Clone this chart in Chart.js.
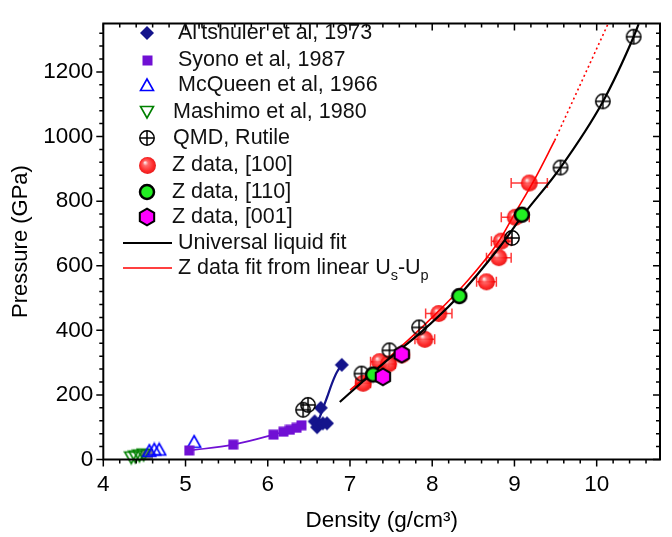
<!DOCTYPE html>
<html><head><meta charset="utf-8">
<script src="https://cdn.jsdelivr.net/npm/chart.js@4/dist/chart.umd.min.js"></script>
<style>html,body{margin:0;padding:0;background:#fff;}</style>
</head><body>
<canvas id="c" width="672" height="537"></canvas>
<script>
// ---------- data ----------
const altX = [6.57, 6.60, 6.62, 6.67, 6.72, 6.645, 6.90];
const altY = [118, 100, 110, 112, 112, 160, 293];
const altFitX = [6.58, 6.63, 6.67, 6.72, 6.78, 6.84, 6.90];
const altFitY = [110, 130, 158, 192, 235, 270, 293];
const syX = [5.045, 5.58, 6.07, 6.19, 6.27, 6.35, 6.41];
const syY = [28, 46, 77, 86, 92, 98, 106];
const syFitX = [5.045, 5.58, 6.07, 6.19, 6.27, 6.35, 6.41];
const syFitY = [28, 46, 77, 86, 92, 98, 106];
const mqX = [4.56, 4.62, 4.68, 5.105];
const mqY = [27, 31, 31, 55];
const maX = [4.34, 4.39, 4.44, 4.49];
const maY = [6, 9, 12, 15];
const grayX = [4.53];
const grayY = [18];
const qmdX = [6.43, 6.49, 7.14, 7.48, 7.84, 8.97, 9.56, 10.075, 10.45];
const qmdY = [154, 169, 266, 338, 409, 686, 904, 1109, 1309];
const z100X = [7.16, 7.36, 7.47, 7.63, 7.91, 8.08, 8.66, 8.81, 8.84, 9.01, 9.18];
const z100Y = [236, 303, 296, 324, 372, 452, 550, 625, 676, 750, 856];
const z100Err = [0.09, 0.11, 0.08, 0.07, 0.12, 0.16, 0.12, 0.15, 0.12, 0.17, 0.22];
const z110X = [7.28, 8.33, 9.09];
const z110Y = [263, 506, 758];
const z001X = [7.40, 7.63];
const z001Y = [256, 326];
const uniX = [6.876, 7.14, 7.5, 7.84, 8.28, 8.82, 9.09, 9.56, 10.075, 10.45, 10.51];
const uniY = [178, 238, 318, 389, 495, 658, 752, 904, 1108, 1309, 1348];
const zfitX = [7.0, 7.5, 8.0, 8.4, 8.8, 9.0, 9.25, 9.49];
const zfitY = [215, 322, 440, 545, 672, 760, 870, 988];
const zextX = [9.49, 10.14];
const zextY = [988, 1350];
const xTickLabels = ['4','5','6','7','8','9','10'];
const yTickLabels = ['0','200','400','600','800','1000','1200'];
const legendLabels = ["Al'tshuler et al, 1973","Syono et al, 1987","McQueen et al, 1966","Mashimo et al, 1980","QMD, Rutile","Z data, [100]","Z data, [110]","Z data, [001]","Universal liquid fit","Z data fit from linear U"];

// ---------- markers ----------
const NAVY = '#14148c', PURPLE = '#7010d4';
function mk(w,h,fn){const c=document.createElement('canvas');c.width=w;c.height=h;fn(c.getContext('2d'),w,h);return c;}
const imgDiamond = mk(16,16,g=>{g.fillStyle=NAVY;g.beginPath();g.moveTo(8,1);g.lineTo(15,8);g.lineTo(8,15);g.lineTo(1,8);g.closePath();g.fill();});
const imgSquare = mk(11,11,g=>{g.fillStyle=PURPLE;g.fillRect(0.5,0.5,10,10);});
const imgTriUp = mk(16,16,g=>{g.strokeStyle='#0000ff';g.lineWidth=1.6;g.beginPath();g.moveTo(8,2);g.lineTo(14.5,13.5);g.lineTo(1.5,13.5);g.closePath();g.stroke();});
const imgTriDown = mk(16,16,g=>{g.strokeStyle='#008000';g.lineWidth=1.6;g.beginPath();g.moveTo(8,14);g.lineTo(14.5,2.5);g.lineTo(1.5,2.5);g.closePath();g.stroke();});
const imgGray = mk(12,10,g=>{g.fillStyle='#808080';g.fillRect(0,0,12,10);});
const imgQMD = mk(18,18,g=>{g.strokeStyle='#000';g.lineWidth=1.5;g.beginPath();g.arc(9,9,7.2,0,2*Math.PI);g.stroke();g.beginPath();g.moveTo(2,9);g.lineTo(16,9);g.moveTo(9,2);g.lineTo(9,16);g.stroke();});
const imgSphere = mk(19,19,g=>{const gr=g.createRadialGradient(7,6.5,0.5,9.5,9.5,9);gr.addColorStop(0,'#ffe0e0');gr.addColorStop(0.25,'#ff5a5a');gr.addColorStop(0.7,'#ff1414');gr.addColorStop(1,'#e00000');g.globalAlpha=0.9;g.fillStyle=gr;g.beginPath();g.arc(9.5,9.5,8.5,0,2*Math.PI);g.fill();});
const imgGreen = mk(18,18,g=>{g.fillStyle='#22ee22';g.strokeStyle='#000';g.lineWidth=2.5;g.beginPath();g.arc(9,9,7,0,2*Math.PI);g.fill();g.stroke();});
const imgHex = mk(20,20,g=>{g.fillStyle='#ff00ff';g.strokeStyle='#000';g.lineWidth=2;g.beginPath();for(let k=0;k<6;k++){const a=-Math.PI/2+k*Math.PI/3;const px=10+8.3*Math.cos(a),py=10+8.3*Math.sin(a);k?g.lineTo(px,py):g.moveTo(px,py);}g.closePath();g.fill();g.stroke();});

const pts=(xs,ys)=>xs.map((x,i)=>({x:x,y:ys[i]}));
function scat(data,img,order){return {data:data,pointStyle:img,pointRadius:8,pointHoverRadius:8,showLine:false,order:order,clip:false};}
function line(data,color,width,order,dash){return {data:data,showLine:true,pointRadius:0,borderColor:color,borderWidth:width,borderDash:dash||[],cubicInterpolationMode:'monotone',fill:false,order:order};}

const FONT = 'Liberation Sans, Arial, sans-serif';
const LEG = '21.5px ';

const errPlugin = {
  id:'err',
  beforeDatasetsDraw(chart){
    const x=chart.scales.x,y=chart.scales.y,ctx=chart.ctx;
    ctx.save();ctx.strokeStyle='#ff3a3a';ctx.lineWidth=1.5;
    z100X.forEach((v,i)=>{
      const x0=x.getPixelForValue(v-z100Err[i]),x1=x.getPixelForValue(v+z100Err[i]),py=y.getPixelForValue(z100Y[i]);
      ctx.beginPath();ctx.moveTo(x0,py);ctx.lineTo(x1,py);
      ctx.moveTo(x0,py-5);ctx.lineTo(x0,py+5);ctx.moveTo(x1,py-5);ctx.lineTo(x1,py+5);ctx.stroke();
    });
    ctx.restore();
  }
};

const framePlugin = {
  id:'frame',
  afterDraw(chart){
    const ctx=chart.ctx,a=chart.chartArea,x=chart.scales.x,y=chart.scales.y;
    ctx.save();ctx.strokeStyle='#000';
    ctx.lineWidth=1.5;
    for(let i=0;;i++){const v=4+i*0.2; if(v>x.max+1e-9)break; const px=x.getPixelForValue(v);const major=(i%5===0);const L=major?7:4;
      ctx.beginPath();ctx.moveTo(px,a.bottom);ctx.lineTo(px,a.bottom+L);ctx.moveTo(px,a.top);ctx.lineTo(px,a.top+L);ctx.stroke();}
    for(let i=0;;i++){const v=i*40; if(v>y.max+1e-9)break; const py=y.getPixelForValue(v);const major=(i%5===0);const L=major?7:4;
      ctx.beginPath();ctx.moveTo(a.left,py);ctx.lineTo(a.left-L,py);ctx.moveTo(a.right,py);ctx.lineTo(a.right-L,py);ctx.stroke();}
    ctx.lineWidth=2;ctx.strokeRect(a.left,a.top,a.right-a.left,a.bottom-a.top);
    // legend
    const imgs=[imgDiamond,imgSquare,imgTriUp,imgTriDown,imgQMD,imgSphere,imgGreen,imgHex];
    const ys=[33,60,85,112,138,165,192,217,243,268];
    const tx=[178,178,178,173,173,172,172,172,178,178];
    ctx.fillStyle='#111';ctx.textBaseline='middle';ctx.textAlign='left';
    for(let i=0;i<10;i++){
      if(i<8){const im=imgs[i];ctx.drawImage(im,Math.round(147-im.width/2),Math.round(ys[i]-im.height/2));}
      else{ctx.beginPath();ctx.strokeStyle=i===8?'#000':'#ff0000';ctx.lineWidth=i===8?2:1.5;ctx.moveTo(123,ys[i]);ctx.lineTo(172,ys[i]);ctx.stroke();}
      ctx.font=LEG+FONT;
      ctx.fillText(legendLabels[i],tx[i],ys[i]);
      if(i===9){
        let w=tx[i]+ctx.measureText(legendLabels[i]).width;
        ctx.font='14.5px '+FONT;ctx.fillText('s',w,ys[i]+8);w+=ctx.measureText('s').width;
        ctx.font=LEG+FONT;ctx.fillText('-U',w,ys[i]);w+=ctx.measureText('-U').width;
        ctx.font='14.5px '+FONT;ctx.fillText('p',w,ys[i]+8);
      }
    }
    ctx.restore();
  }
};

new Chart(document.getElementById('c'),{
  type:'scatter',
  data:{datasets:[
    scat(pts(z100X,z100Y),imgSphere,10),
    line(pts(zfitX,zfitY),'#ff0000',1.6,9),
    line(pts(zextX,zextY),'#ff0000',1.6,9,[2,3]),
    line(pts(uniX,uniY),'#000000',2.2,8),
    line(pts(syFitX,syFitY),PURPLE,1.6,8),
    line(pts(altFitX,altFitY),NAVY,2.2,8),
    scat(pts(grayX,grayY),imgGray,6),
    scat(pts(mqX,mqY),imgTriUp,4),
    scat(pts(maX,maY),imgTriDown,4),
    scat(pts(syX,syY),imgSquare,3),
    scat(pts(altX,altY),imgDiamond,3),
    scat(pts(qmdX,qmdY),imgQMD,2),
    scat(pts(z110X,z110Y),imgGreen,1),
    scat(pts(z001X,z001Y),imgHex,0)
  ]},
  options:{
    responsive:false,animation:false,
    layout:{padding:{top:10,right:12,left:0,bottom:0}},
    plugins:{legend:{display:false},tooltip:{enabled:false}},
    scales:{
      x:{type:'linear',min:4,max:10.77,
        afterFit(s){s.height=77.5;},
        grid:{display:false,drawTicks:false},border:{display:false},
        ticks:{stepSize:1,includeBounds:false,padding:12,color:'#000',font:{family:FONT,size:22.5},
          callback:(v)=>{const i=Math.round(v-4);return (Math.abs(v-4-i)<1e-6&&xTickLabels[i]!==undefined)?xTickLabels[i]:'';}},
        title:{display:true,text:'Density (g/cm\u00B3)',color:'#000',font:{family:FONT,size:22.5},padding:{top:0,bottom:3}}
      },
      y:{type:'linear',min:0,max:1350,
        afterFit(s){s.width=103.3;},
        grid:{display:false,drawTicks:false},border:{display:false},
        ticks:{stepSize:200,includeBounds:false,padding:10,color:'#000',font:{family:FONT,size:22.5},
          callback:(v)=>{const i=Math.round(v/200);return (Math.abs(v-i*200)<1e-6&&yTickLabels[i]!==undefined)?yTickLabels[i]:'';}},
        title:{display:true,text:'Pressure (GPa)',color:'#000',font:{family:FONT,size:22},padding:{top:8,bottom:0}}
      }
    }
  },
  plugins:[errPlugin,framePlugin]
});
</script>
</body></html>
